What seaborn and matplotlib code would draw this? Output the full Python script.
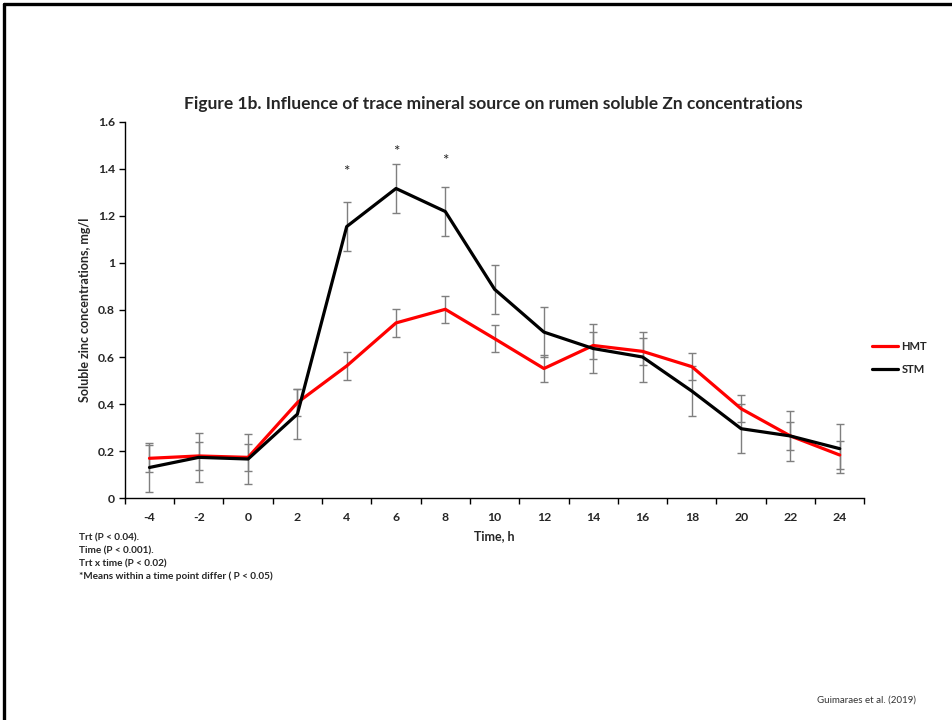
import matplotlib
matplotlib.use("Agg")
import matplotlib.pyplot as plt
from matplotlib.lines import Line2D
import numpy as np
import pandas as pd
import seaborn as sns

# Sampling times (h relative to feeding)
time_h = [-4, -2, 0, 2, 4, 6, 8, 10, 12, 14, 16, 18, 20, 22, 24]

# Rumen soluble Zn, mg/l
hmt_mean = [0.169, 0.179, 0.173, 0.406, 0.562, 0.745, 0.803, 0.678, 0.551, 0.649, 0.624, 0.559, 0.380, 0.264, 0.183]
stm_mean = [0.130, 0.173, 0.166, 0.357, 1.155, 1.317, 1.219, 0.888, 0.706, 0.636, 0.600, 0.455, 0.295, 0.264, 0.210]

# Standard errors
hmt_se = [0.058] * 15
stm_se = [0.105] * 15

# Time points where treatment means differ (P < 0.05) and label heights
sig_times = [4, 6, 8]
sig_label_y = [1.388, 1.473, 1.433]

series_names = ["HMT", "STM"]
series_colors = {"HMT": "#ff0000", "STM": "#000000"}

footnotes = [
    "Trt (P < 0.04).",
    "Time (P < 0.001).",
    "Trt x time (P < 0.02)",
    "*Means within a time point differ ( P < 0.05)",
]

sns.set_theme(style="white")
plt.rcParams["font.family"] = ["Lato", "DejaVu Sans"]

df = pd.DataFrame({
    "pos": list(range(len(time_h))) * 2,
    "zn": hmt_mean + stm_mean,
    "trt": ["HMT"] * len(time_h) + ["STM"] * len(time_h),
})

fig = plt.figure(figsize=(9.53, 7.2), dpi=100)
ax = fig.add_axes([0.131, 0.3083, 0.776, 0.5223])

pos = np.arange(len(time_h))
for m, se in ((hmt_mean, hmt_se), (stm_mean, stm_se)):
    ax.errorbar(pos, m, yerr=se, fmt="none", ecolor="#7f7f7f",
                elinewidth=1.0, capsize=2.8, capthick=1.0, zorder=2)

sns.lineplot(data=df, x="pos", y="zn", hue="trt", hue_order=series_names,
             palette=series_colors, linewidth=2.3, ax=ax, legend=False,
             zorder=3)

for t, y in zip(sig_times, sig_label_y):
    ax.text(time_h.index(t), y, "*", ha="center", va="center",
            fontsize=11, color="#222222")

ax.set_xlim(-0.5, len(time_h) - 0.5)
ax.set_ylim(0, 1.6)
ax.set_yticks(np.arange(0, 1.61, 0.2))
ax.set_yticklabels(["0", "0.2", "0.4", "0.6", "0.8", "1", "1.2", "1.4", "1.6"],
                   fontsize=8.8, fontweight="bold")
ax.set_xticks(np.arange(-0.5, len(time_h), 1.0))
ax.set_xticklabels([])
ax.set_xticks(pos, minor=True)
ax.set_xticklabels([str(t) for t in time_h], minor=True,
                   fontsize=8.8, fontweight="bold")
ax.tick_params(axis="x", which="major", direction="out", length=4,
               width=1, color="black", bottom=True)
ax.tick_params(axis="x", which="minor", length=0, pad=10)
ax.tick_params(axis="y", direction="out", length=4, width=1,
               color="black", left=True, pad=3)

for side in ("top", "right"):
    ax.spines[side].set_visible(False)
for side in ("left", "bottom"):
    ax.spines[side].set_color("black")
    ax.spines[side].set_linewidth(1.0)

ax.set_xlabel("Time, h", fontsize=9, fontweight="bold", labelpad=5)
ax.set_ylabel("Soluble zinc concentrations, mg/l", fontsize=9,
              fontweight="bold", labelpad=5)

fig.text(0.5175, 0.855, "Figure 1b. Influence of trace mineral source on rumen soluble Zn concentrations",
         ha="center", va="center", fontsize=12.5, fontweight="bold")

handles = [Line2D([], [], color=series_colors[n], linewidth=2.3) for n in series_names]
fig.legend(handles, series_names, loc="center left",
           bbox_to_anchor=(0.904, 0.503), frameon=False,
           prop={"weight": "bold", "size": 8}, handlelength=2.4,
           handletextpad=0.3, labelspacing=1.1)

for i, line in enumerate(footnotes):
    fig.text(0.083, 0.253 - i * 0.0178, line, fontsize=7.2,
             fontweight="bold", ha="left", va="center")

fig.text(0.961, 0.028, "Guimaraes et al. (2019)", fontsize=7,
         ha="right", va="center", color="#333333")

# Slide frame along top and left edges
fig.add_artist(Line2D([0.0045, 1.0], [0.994, 0.994], color="black",
                      linewidth=2.4, transform=fig.transFigure))
fig.add_artist(Line2D([0.0045, 0.0045], [0.0, 0.994], color="black",
                      linewidth=2.4, transform=fig.transFigure))

fig.savefig("out.png", dpi=100)
